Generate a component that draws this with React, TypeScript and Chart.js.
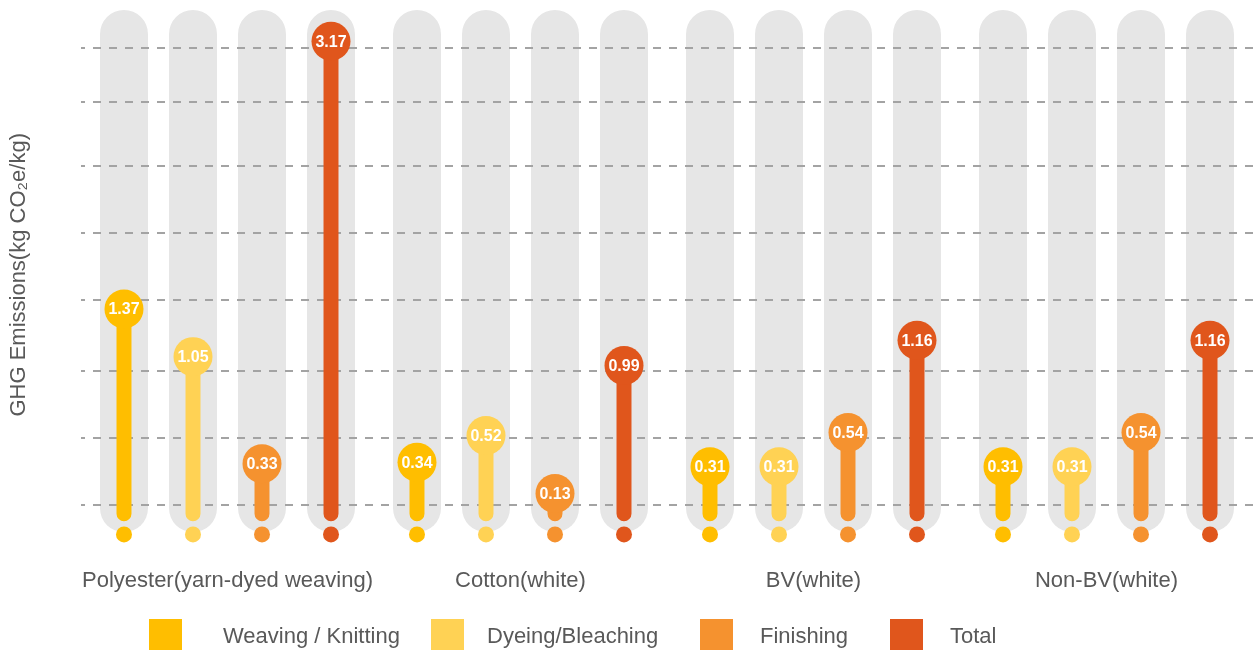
import React, { useEffect, useRef } from "react";
import { Chart, registerables } from "chart.js";

Chart.register(...registerables);

const categories = ["Polyester(yarn-dyed weaving)", "Cotton(white)", "BV(white)", "Non-BV(white)"];
const seriesNames = ["Weaving / Knitting", "Dyeing/Bleaching", "Finishing", "Total"];
const weavingKnitting = [1.37, 0.34, 0.31, 0.31];
const dyeingBleaching = [1.05, 0.52, 0.31, 0.31];
const finishing = [0.33, 0.13, 0.54, 0.54];
const total = [3.17, 0.99, 1.16, 1.16];
const gridTicks = [0.05, 0.5, 0.955, 1.43, 1.88, 2.33, 2.76, 3.125];
const yTitle = "GHG Emissions(kg CO\u2082e/kg)";

const seriesValues = [weavingKnitting, dyeingBleaching, finishing, total];
const seriesColors = ["#FFBE00", "#FFD254", "#F5922F", "#E0561C"];
const TRACK_COLOR = "#E6E6E6";
const TRACK_RANGE: [number, number] = [-0.13, 3.38];
const STEM_BASE = -0.056;
const DOT_VALUE = -0.145;
const FONT = 'Arial, "Liberation Sans", sans-serif';
const TEXT_COLOR = "#595959";

const lollipopPlugin = {
  id: "lollipop",
  beforeDraw(chart: any) {
    chart.data.datasets.forEach((ds: any, i: number) => {
      if (ds.isTrack) {
        const meta = chart.getDatasetMeta(i);
        meta.controller.draw();
      }
    });
  },
  beforeDatasetDraw(chart: any, args: any) {
    if (chart.data.datasets[args.index].isTrack) return false;
    return true;
  },
  afterDatasetsDraw(chart: any) {
    const ctx = chart.ctx;
    const y = chart.scales.y;
    chart.data.datasets.forEach((ds: any, i: number) => {
      if (!ds.isStem) return;
      const meta = chart.getDatasetMeta(i);
      meta.data.forEach((el: any, j: number) => {
        const v = ds.values[j];
        ctx.save();
        ctx.fillStyle = ds.color;
        ctx.beginPath();
        ctx.arc(el.x, y.getPixelForValue(DOT_VALUE), 8, 0, Math.PI * 2);
        ctx.fill();
        const cy = y.getPixelForValue(v);
        ctx.beginPath();
        ctx.arc(el.x, cy, 19.5, 0, Math.PI * 2);
        ctx.fill();
        ctx.fillStyle = "#FFFFFF";
        ctx.font = `bold 16px ${FONT}`;
        ctx.textAlign = "center";
        ctx.textBaseline = "middle";
        ctx.fillText(v.toFixed(2), el.x, cy + 1);
        ctx.restore();
      });
    });
  },
};

export default function App() {
  const canvasRef = useRef<HTMLCanvasElement | null>(null);

  useEffect(() => {
    if (!canvasRef.current) return;
    const catPct = 0.942;
    const datasets: any[] = [];
    seriesValues.forEach((vals, i) => {
      datasets.push({
        label: seriesNames[i] + " track",
        isTrack: true,
        data: categories.map(() => [TRACK_RANGE[0], TRACK_RANGE[1]]),
        backgroundColor: TRACK_COLOR,
        borderRadius: 24,
        borderSkipped: false,
        stack: "s" + i,
        categoryPercentage: catPct,
        barPercentage: 0.695,
        order: 10,
      });
    });
    seriesValues.forEach((vals, i) => {
      datasets.push({
        label: seriesNames[i],
        isStem: true,
        values: vals,
        color: seriesColors[i],
        data: vals.map((v) => [STEM_BASE, v]),
        backgroundColor: seriesColors[i],
        borderRadius: 7.5,
        borderSkipped: false,
        stack: "s" + i,
        categoryPercentage: catPct,
        barPercentage: 0.217,
        order: 5,
      });
    });

    const chart = new Chart(canvasRef.current, {
      type: "bar",
      data: { labels: categories, datasets },
      plugins: [lollipopPlugin],
      options: {
        animation: false,
        responsive: false,
        layout: { padding: { left: 2, right: 0, top: 7, bottom: 31 } },
        plugins: {
          legend: { display: false },
          tooltip: { enabled: false },
        },
        scales: {
          x: {
            grid: { display: false, drawTicks: false },
            border: { display: false },
            ticks: {
              padding: 25,
              color: TEXT_COLOR,
              font: { family: FONT, size: 22 },
              maxRotation: 0,
              autoSkip: false,
            },
          },
          y: {
            stacked: false,
            min: -0.2,
            max: 3.4,
            afterBuildTicks: (scale: any) => {
              scale.ticks = gridTicks.map((v) => ({ value: v }));
            },
            grid: { color: "#A3A3A3", lineWidth: 2, drawTicks: false },
            border: { display: false, dash: [8, 8], dashOffset: 4 },
            ticks: { display: false },
            title: {
              display: true,
              text: yTitle,
              color: TEXT_COLOR,
              font: { family: FONT, size: 22 },
              padding: { top: 4, bottom: 48.6 },
            },
          },
        },
      } as any,
    });
    return () => chart.destroy();
  }, []);

  const legendLefts = [149, 431, 700, 890];
  const textLefts = [223, 487, 760, 950];

  return (
    <div style={{ position: "absolute", left: 0, top: 0, width: 1253, height: 650, overflow: "hidden", background: "#FFFFFF" }}>
      <canvas ref={canvasRef} width={1253} height={650} style={{ display: "block" }} />
      {seriesNames.map((name, i) => (
        <React.Fragment key={name}>
          <div
            style={{
              position: "absolute",
              left: legendLefts[i],
              top: 619,
              width: 33,
              height: 33,
              background: seriesColors[i],
            }}
          />
          <div
            style={{
              position: "absolute",
              left: textLefts[i],
              top: 624,
              fontFamily: FONT,
              fontSize: 22,
              lineHeight: "24px",
              color: TEXT_COLOR,
              whiteSpace: "nowrap",
            }}
          >
            {name}
          </div>
        </React.Fragment>
      ))}
    </div>
  );
}
